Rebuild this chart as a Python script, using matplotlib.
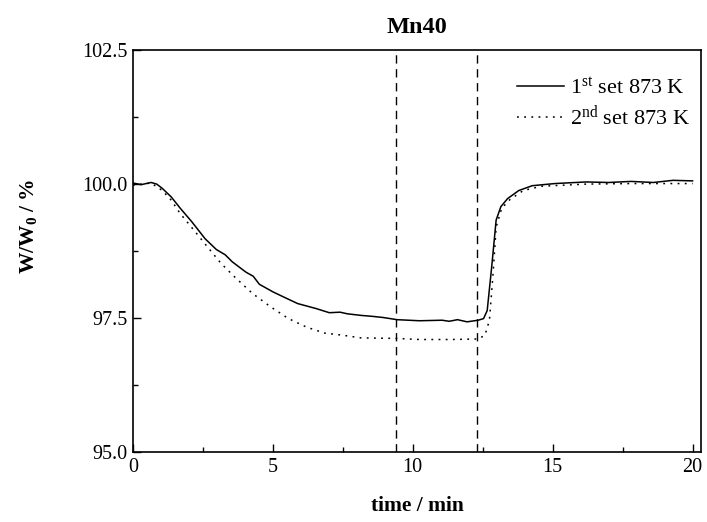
import matplotlib
matplotlib.use("Agg")
import matplotlib.pyplot as plt

plt.rcParams['font.family'] = ['Liberation Serif', 'DejaVu Serif']
plt.rcParams['mathtext.fontset'] = 'custom'
plt.rcParams['mathtext.rm'] = 'Liberation Serif'
plt.rcParams['mathtext.it'] = 'Liberation Serif:italic'
plt.rcParams['mathtext.bf'] = 'Liberation Serif:bold'

title = "Mn40"
xlabel = "time / min"
ylabel = r"W/W$_\mathbf{0}$ / %"
labels = [r"1$^{\mathrm{st}}$ set 873 K", r"2$^{\mathrm{nd}}$ set 873 K"]

t1 = [0.0, 0.3, 0.65, 0.85, 1.05, 1.37, 1.69, 2.1, 2.58, 2.98, 3.3, 3.55, 4.03, 4.3, 4.52, 5.0, 5.4, 5.89,
      6.53, 7.02, 7.4, 7.66, 8.15, 8.6, 8.95, 9.44, 10.24, 11.05, 11.3, 11.6, 11.94, 12.34, 12.53, 12.66, 12.82,
      12.98, 13.15, 13.39, 13.79, 14.27, 15.08, 16.2, 17.0, 17.8, 18.6, 19.3, 20.0]
w1 = [100.02, 99.99, 100.03, 100.0, 99.92, 99.76, 99.55, 99.3, 98.98, 98.78, 98.68, 98.55, 98.36, 98.28, 98.13,
      97.99, 97.89, 97.77, 97.68, 97.6, 97.61, 97.58, 97.55, 97.53, 97.51, 97.47, 97.45, 97.46, 97.44, 97.47, 97.43,
      97.46, 97.49, 97.64, 98.45, 99.33, 99.58, 99.73, 99.88, 99.97, 100.01, 100.04, 100.03,
      100.05, 100.03, 100.07, 100.06]

t2 = [0.0, 0.65, 1.05, 1.37, 1.69, 2.18, 2.66, 3.15, 3.63, 4.27, 4.92, 5.56, 6.21, 6.85, 7.5,
      8.15, 9.44, 10.24, 11.37, 12.34, 12.58, 12.74, 12.87, 12.98, 13.18, 13.47, 13.95, 14.6,
      16.2, 17.8, 20.0]
w2 = [99.98, 100.02, 99.88, 99.7, 99.45, 99.14, 98.83, 98.52, 98.27, 97.96, 97.71, 97.49, 97.33,
      97.22, 97.18, 97.13, 97.12, 97.1, 97.1, 97.11, 97.18, 97.46, 98.33, 99.2, 99.55, 99.71,
      99.88, 99.96, 100.0, 100.01, 100.01]

vlines = [9.4, 12.3]

fig = plt.figure(figsize=(7.07, 5.22), dpi=100)
ax = fig.add_axes([0.188, 0.134, 0.8035, 0.77])

ax.plot(t1, w1, color='black', lw=1.1, label=labels[0])
ax.plot(t2, w2, color='black', lw=1.1, ls=(0, (1.2, 3.5)), label=labels[1])
for v in vlines:
    ax.axvline(v, color='black', lw=1.0, ls=(0, (6, 4)))

ax.set_xlim(0, 20.3)
ax.set_ylim(95, 102.5)
ax.set_xticks([0, 5, 10, 15, 20])
ax.set_xticks([2.5, 7.5, 12.5, 17.5], minor=True)
ax.set_yticks([95.0, 97.5, 100.0, 102.5])
ax.set_yticks([96.25, 98.75, 101.25], minor=True)
ax.set_yticklabels(["95.0", "97.5", "100.0", "102.5"])
ax.tick_params(which='both', direction='in', top=False, right=False, labelsize=14.5, width=1.0)
ax.tick_params(which='major', length=6, pad=4)
ax.tick_params(which='minor', length=3.5)
for s in ax.spines.values():
    s.set_linewidth(1.2)

ax.set_xlabel(xlabel, fontsize=15.5, fontweight='bold')
ax.xaxis.set_label_coords(0.5, -0.11)
ax.set_ylabel(ylabel, fontsize=15.5, fontweight='bold')
ax.yaxis.set_label_coords(-0.165, 0.562)
ax.set_title(title, fontsize=17.5, fontweight='bold', pad=12)

ax.legend(loc='upper right', bbox_to_anchor=(0.9956, 0.955), frameon=False, fontsize=16,
          handlelength=2.1, handletextpad=0.25, borderaxespad=0.0, labelspacing=0.25,
          borderpad=0.4)

fig.savefig("out.png", dpi=100)
